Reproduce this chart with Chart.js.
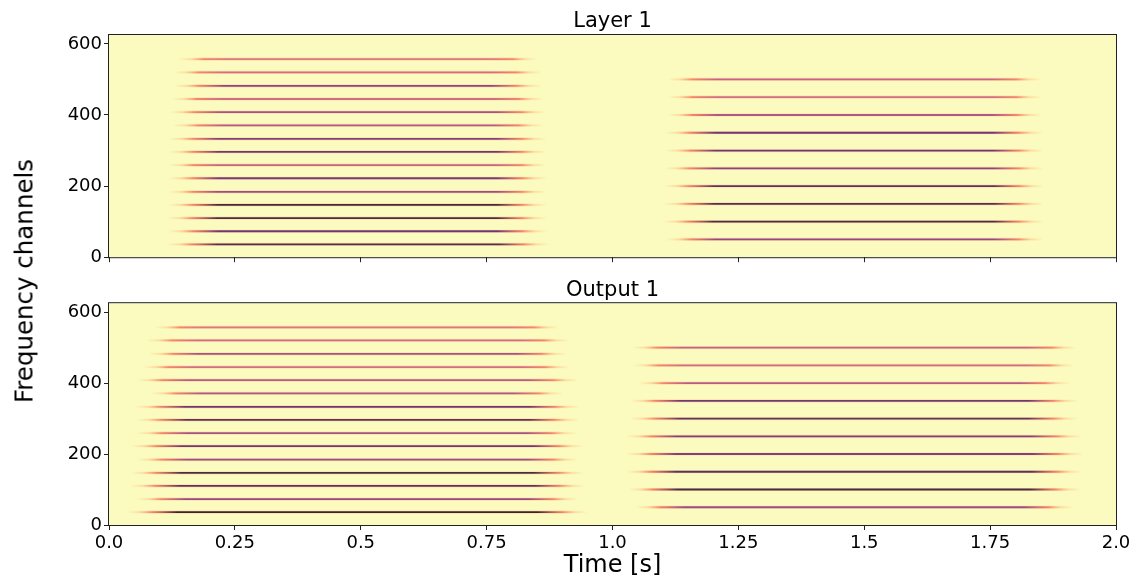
<!DOCTYPE html>
<html>
<head>
<meta charset="utf-8">
<script src="https://cdn.jsdelivr.net/npm/chart.js@4.4.1/dist/chart.umd.min.js"></script>
<style>
  body { margin: 0; background: #fff; }
  #wrap { position: relative; width: 1141px; height: 584px; }
  .panel { position: absolute; left: 0; width: 1141px; }
  .ylab {
    position: absolute; left: 24px; top: 281px;
    transform: translate(-50%, -50%) rotate(-90deg);
    font: 24.5px 'DejaVu Sans', sans-serif; color: #000; white-space: nowrap;
  }
</style>
</head>
<body>
<div id="wrap">
  <div class="panel" style="top:0;height:270px"><canvas id="layer"></canvas></div>
  <div class="panel" style="top:270px;height:314px"><canvas id="output"></canvas></div>
  <div class="ylab">Frequency channels</div>
</div>
<script>
// axes
var timeTicks = [0, 0.25, 0.5, 0.75, 1.0, 1.25, 1.5, 1.75, 2.0];
var timeLabels = ["0.0", "0.25", "0.5", "0.75", "1.0", "1.25", "1.5", "1.75", "2.0"];
var channelTicks = [0, 200, 400, 600];

// first burst: 15 channels, second burst: 10 channels
var chanA = [36, 73, 110, 147, 184, 222, 259, 296, 333, 371, 408, 445, 482, 520, 557];
var chanB = [50, 100, 150, 200, 250, 300, 350, 400, 450, 500];

// Layer 1
var layerStartA = [0.115, 0.118, 0.116, 0.117, 0.118, 0.118, 0.118, 0.118, 0.118, 0.127, 0.120, 0.125, 0.129, 0.129, 0.138];
var layerEndA   = [0.874, 0.870, 0.870, 0.870, 0.869, 0.870, 0.869, 0.869, 0.869, 0.863, 0.868, 0.863, 0.859, 0.859, 0.851];
var layerLevelA = [0.88, 0.8, 0.9, 0.92, 0.68, 0.78, 0.55, 0.8, 0.75, 0.6, 0.65, 0.5, 0.72, 0.5, 0.45];
var layerStartB = [1.106, 1.101, 1.102, 1.102, 1.104, 1.105, 1.105, 1.109, 1.109, 1.109];
var layerEndB   = [1.856, 1.857, 1.857, 1.857, 1.856, 1.856, 1.855, 1.852, 1.852, 1.852];
var layerLevelB = [0.7, 0.9, 0.88, 0.85, 0.72, 0.8, 0.8, 0.62, 0.5, 0.55];

// Output 1
var outStartA = [0.036, 0.054, 0.042, 0.044, 0.055, 0.044, 0.055, 0.054, 0.052, 0.083, 0.056, 0.068, 0.078, 0.075, 0.091];
var outEndA   = [0.950, 0.932, 0.945, 0.943, 0.932, 0.943, 0.929, 0.934, 0.935, 0.902, 0.932, 0.916, 0.909, 0.914, 0.894];
var outLevelA = [0.95, 0.7, 0.85, 0.9, 0.68, 0.8, 0.65, 0.85, 0.8, 0.62, 0.6, 0.5, 0.65, 0.5, 0.45];
var outStartB = [1.045, 1.031, 1.027, 1.027, 1.027, 1.035, 1.035, 1.051, 1.041, 1.039];
var outEndB   = [1.915, 1.929, 1.932, 1.934, 1.932, 1.925, 1.925, 1.909, 1.917, 1.922];
var outLevelB = [0.68, 0.9, 0.85, 0.75, 0.75, 0.85, 0.8, 0.6, 0.5, 0.55];

Chart.defaults.font.family = "'DejaVu Sans', sans-serif";
Chart.defaults.color = "#000";

// magma colormap, reversed when used (high level = dark)
var magma = [
  [0, 0, 4], [20, 14, 54], [59, 15, 112], [100, 26, 128], [140, 41, 129],
  [183, 55, 121], [222, 73, 104], [247, 112, 92], [254, 159, 109], [254, 207, 146], [252, 253, 191]
];
function magmaR(v) {
  var t = (1 - v) * 10;
  var i = Math.min(9, Math.floor(t));
  var f = t - i;
  var a = magma[i], b = magma[i + 1];
  return [0, 1, 2].map(function (k) { return Math.round(a[k] + (b[k] - a[k]) * f); });
}
function rgba(c, a) { return "rgba(" + c[0] + "," + c[1] + "," + c[2] + "," + a + ")"; }

// horizontal gradient: fades in through orange at both ends
function lineStroke(chart, t0, t1, level, halo) {
  if (!chart.chartArea) return "rgba(0,0,0,0)";
  var x = chart.scales.x;
  var a = x.getPixelForValue(t0), b = x.getPixelForValue(t1);
  var len = b - a;
  var g = chart.ctx.createLinearGradient(a, 0, b, 0);
  function f(px) { return Math.min(px / len, 0.49); }
  var light = [254, 207, 146], red = [247, 112, 92];
  var mid = halo ? rgba(red, 0.2) : rgba(magmaR(level), 0.45 + 0.55 * level);
  g.addColorStop(0, rgba(light, 0));
  g.addColorStop(f(12), rgba(light, halo ? 0.15 : 0.6));
  g.addColorStop(f(25), rgba(red, halo ? 0.22 : 0.8));
  g.addColorStop(f(50), mid);
  g.addColorStop(1 - f(50), mid);
  g.addColorStop(1 - f(25), rgba(red, halo ? 0.22 : 0.8));
  g.addColorStop(1 - f(12), rgba(light, halo ? 0.15 : 0.6));
  g.addColorStop(1, rgba(light, 0));
  return g;
}

function burstDatasets(chan, starts, ends, levels) {
  var sets = [];
  chan.forEach(function (c, i) {
    [true, false].forEach(function (halo) {
      sets.push({
        data: [{ x: starts[i], y: c }, { x: ends[i], y: c }],
        borderWidth: halo ? 3.2 : 1.8,
        pointRadius: 0,
        borderColor: function (ctx) { return lineStroke(ctx.chart, starts[i], ends[i], levels[i], halo); }
      });
    });
  });
  return sets;
}

var framePlugin = {
  id: "frame",
  beforeDraw: function (chart) {
    var a = chart.chartArea, ctx = chart.ctx;
    ctx.save();
    ctx.fillStyle = "#fbfbbf";
    ctx.fillRect(a.left, a.top, a.right - a.left, a.bottom - a.top);
    ctx.restore();
  },
  afterDraw: function (chart) {
    var a = chart.chartArea, ctx = chart.ctx;
    ctx.save();
    ctx.strokeStyle = "#222";
    ctx.lineWidth = 1;
    ctx.strokeRect(a.left - 0.5, a.top - 0.5, a.right - a.left + 1, a.bottom - a.top + 1);
    ctx.restore();
  }
};

function makePanel(id, title, datasets, bottom, titlePad) {
  return new Chart(document.getElementById(id), {
    type: "line",
    data: { datasets: datasets },
    plugins: [framePlugin],
    options: {
      responsive: true,
      maintainAspectRatio: false,
      animation: false,
      events: [],
      layout: { padding: { left: 0, right: 25, top: 0, bottom: 0 } },
      plugins: {
        legend: { display: false },
        tooltip: { enabled: false },
        title: {
          display: true,
          text: title,
          fullSize: false,
          font: { size: 21, weight: "normal" },
          color: "#000",
          padding: titlePad
        }
      },
      scales: {
        x: {
          type: "linear",
          min: 0,
          max: 2,
          afterBuildTicks: function (s) { s.ticks = timeTicks.map(function (v) { return { value: v }; }); },
          afterFit: function (s) { s.height = bottom ? 59 : 12; },
          ticks: {
            display: bottom,
            padding: 3,
            maxRotation: 0,
            font: { size: 18 },
            color: "#000",
            callback: function (v) { return timeLabels[timeTicks.indexOf(v)]; }
          },
          grid: { drawOnChartArea: false, drawTicks: true, tickLength: 5, color: "#222" },
          border: { display: false },
          title: { display: bottom, text: "Time [s]", font: { size: 24 }, color: "#000", padding: { top: 0, bottom: 4 } }
        },
        y: {
          type: "linear",
          min: 0,
          max: 625,
          afterBuildTicks: function (s) { s.ticks = channelTicks.map(function (v) { return { value: v }; }); },
          afterFit: function (s) { s.width = 109; },
          ticks: { padding: 2, font: { size: 18 }, color: "#000" },
          grid: { drawOnChartArea: false, drawTicks: true, tickLength: 5, color: "#222" },
          border: { display: false }
        }
      }
    }
  });
}

makePanel("layer", "Layer 1",
  burstDatasets(chanA, layerStartA, layerEndA, layerLevelA).concat(
    burstDatasets(chanB, layerStartB, layerEndB, layerLevelB)),
  false, { top: 9, bottom: 0.8 });

makePanel("output", "Output 1",
  burstDatasets(chanA, outStartA, outEndA, outLevelA).concat(
    burstDatasets(chanB, outStartB, outEndB, outLevelB)),
  true, { top: 8, bottom: 0 });
</script>
</body>
</html>
